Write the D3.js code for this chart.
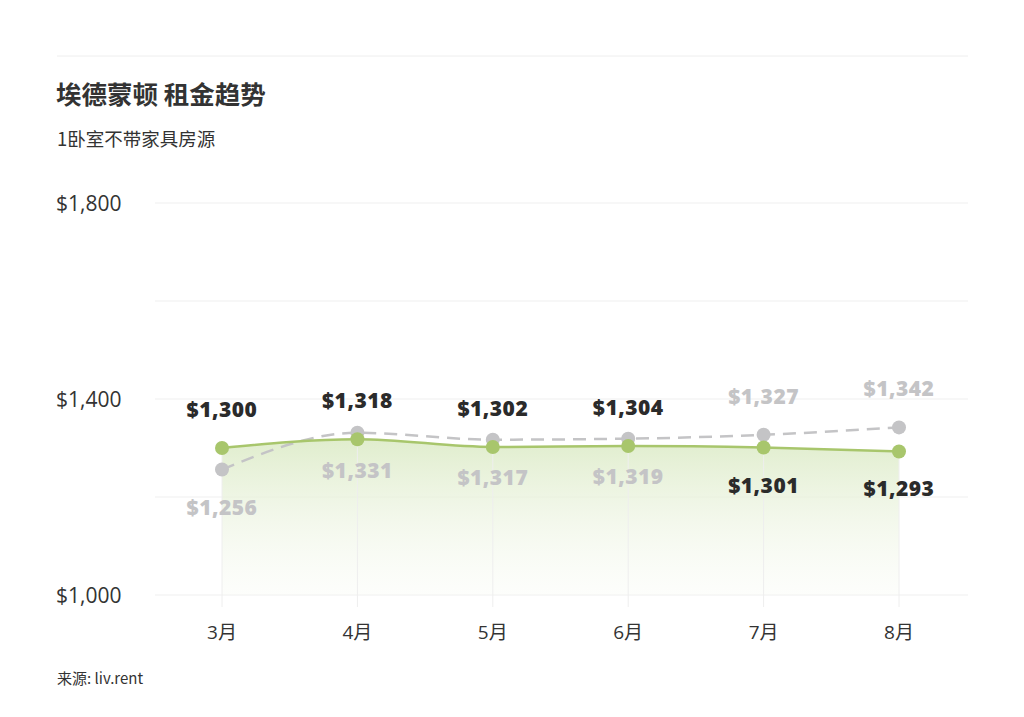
<!DOCTYPE html>
<html>
<head>
<meta charset="utf-8">
<script src="https://cdn.jsdelivr.net/npm/d3@7"></script>
<style>
  body { margin: 0; background: #fff; }
  svg { display: block; }
</style>
</head>
<body>
<svg id="chart" width="1024" height="717"></svg>
<script>
"use strict";

// chart data
const months = ["3月", "4月", "5月", "6月", "7月", "8月"];
const currentRent = [1300, 1318, 1302, 1304, 1301, 1293];
const lastYearRent = [1256, 1331, 1317, 1319, 1327, 1342];
const greenLabelAbove = [true, true, true, true, false, false];
const yTicks = [1000, 1200, 1400, 1600, 1800];
const yLabelTicks = [1000, 1400, 1800];

const svg = d3.select("#chart");
const margins = { top: 203, right: 56, bottom: 122, left: 155 };
const width = 1024, height = 717;

const fmt = v => "$" + d3.format(",")(v);

let x = d3.scalePoint().domain(months).range([222, 899]);
let y = d3.scaleLinear().domain([1000, 1800]).range([height - margins.bottom, margins.top]);

// top rule
svg.append("line")
  .attr("x1", 57).attr("x2", width - margins.right)
  .attr("y1", 56).attr("y2", 56)
  .attr("stroke", "#eeeeee").attr("stroke-width", 1);

svg.append("text")
  .attr("x", 56).attr("y", 104)
  .style("font-family", "'Noto Sans CJK SC', sans-serif")
  .style("font-weight", "700").style("font-size", "25.5px")
  .attr("fill", "#333")
  .text("埃德蒙顿 租金趋势");

svg.append("text")
  .attr("x", 57).attr("y", 146)
  .style("font-family", "'Noto Sans CJK SC', sans-serif")
  .style("font-size", "18.5px")
  .attr("fill", "#333")
  .text("1卧室不带家具房源");

svg.append("text")
  .attr("x", 57).attr("y", 684)
  .style("font-family", "'Noto Sans CJK SC', sans-serif")
  .style("font-size", "15px")
  .attr("fill", "#333")
  .text("来源: liv.rent");

// gradient for the area
let defs = svg.append("defs");
let grad = defs.append("linearGradient")
  .attr("id", "areaGrad")
  .attr("x1", 0).attr("x2", 0).attr("y1", 0).attr("y2", 1);
grad.append("stop").attr("offset", "0%").attr("stop-color", "#e0edcd").attr("stop-opacity", 1);
grad.append("stop").attr("offset", "100%").attr("stop-color", "#f7faf2").attr("stop-opacity", 0.3);

// horizontal grid
svg.append("g").selectAll("line").data(yTicks)
  .enter().append("line")
  .attr("x1", margins.left).attr("x2", width - margins.right)
  .attr("y1", d => y(d)).attr("y2", d => y(d))
  .attr("stroke", "#efefef").attr("stroke-width", 1);

// y labels
svg.append("g").selectAll("text").data(yLabelTicks)
  .enter().append("text")
  .attr("x", 56).attr("y", d => y(d) + 7.5)
  .style("font-family", "'Open Sans', sans-serif")
  .style("font-size", "21px")
  .attr("fill", "#333")
  .text(fmt);

let points = months.map((m, i) => ({ m, cur: currentRent[i], prev: lastYearRent[i], above: greenLabelAbove[i] }));

// area under green line
let area = d3.area()
  .x(d => x(d.m))
  .y0(y(1000))
  .y1(d => y(d.cur))
  .curve(d3.curveMonotoneX);

svg.append("path")
  .datum(points)
  .attr("d", area)
  .attr("fill", "url(#areaGrad)");

// vertical grid per month
svg.append("g").selectAll("line").data(points)
  .enter().append("line")
  .attr("x1", d => x(d.m)).attr("x2", d => x(d.m))
  .attr("y1", d => y(d.cur)).attr("y2", y(1000) + 12)
  .attr("stroke", "#eeeeee").attr("stroke-width", 1);

// x labels
svg.append("g").selectAll("text").data(months)
  .enter().append("text")
  .attr("x", d => x(d)).attr("y", 639)
  .attr("text-anchor", "middle")
  .style("font-family", "'Open Sans', 'Noto Sans CJK SC', sans-serif")
  .style("font-size", "19px")
  .attr("fill", "#333")
  .text(d => d);

// last-year dashed line
let prevLine = d3.line().x(d => x(d.m)).y(d => y(d.prev)).curve(d3.curveMonotoneX);
svg.append("path")
  .datum(points)
  .attr("d", prevLine)
  .attr("fill", "none")
  .attr("stroke", "#c4c4c6")
  .attr("stroke-width", 2.5)
  .attr("stroke-dasharray", "13,8");

// current green line
let curLine = d3.line().x(d => x(d.m)).y(d => y(d.cur)).curve(d3.curveMonotoneX);
svg.append("path")
  .datum(points)
  .attr("d", curLine)
  .attr("fill", "none")
  .attr("stroke", "#a8c66c")
  .attr("stroke-width", 2.5);

svg.append("g").selectAll("circle").data(points)
  .enter().append("circle")
  .attr("cx", d => x(d.m)).attr("cy", d => y(d.prev))
  .attr("r", 7).attr("fill", "#c4c4c6");

svg.append("g").selectAll("circle").data(points)
  .enter().append("circle")
  .attr("cx", d => x(d.m)).attr("cy", d => y(d.cur))
  .attr("r", 7).attr("fill", "#a8c66c");

// value labels
let labelFont = "'Open Sans', sans-serif";
svg.append("g").selectAll("text").data(points)
  .enter().append("text")
  .attr("x", d => x(d.m))
  .attr("y", d => y(d.cur) + (d.above ? -38 : 38) + 7)
  .attr("text-anchor", "middle")
  .style("font-family", labelFont)
  .style("font-weight", "800").style("font-size", "21px")
  .style("letter-spacing", "0.5px")
  .attr("fill", "#2b2b2b")
  .text(d => fmt(d.cur));

svg.append("g").selectAll("text").data(points)
  .enter().append("text")
  .attr("x", d => x(d.m))
  .attr("y", d => y(d.prev) + (d.above ? 38 : -38) + 7)
  .attr("text-anchor", "middle")
  .style("font-family", labelFont)
  .style("font-weight", "800").style("font-size", "21px")
  .style("letter-spacing", "0.5px")
  .attr("fill", "#c4c4c6")
  .text(d => fmt(d.prev));
</script>
</body>
</html>
